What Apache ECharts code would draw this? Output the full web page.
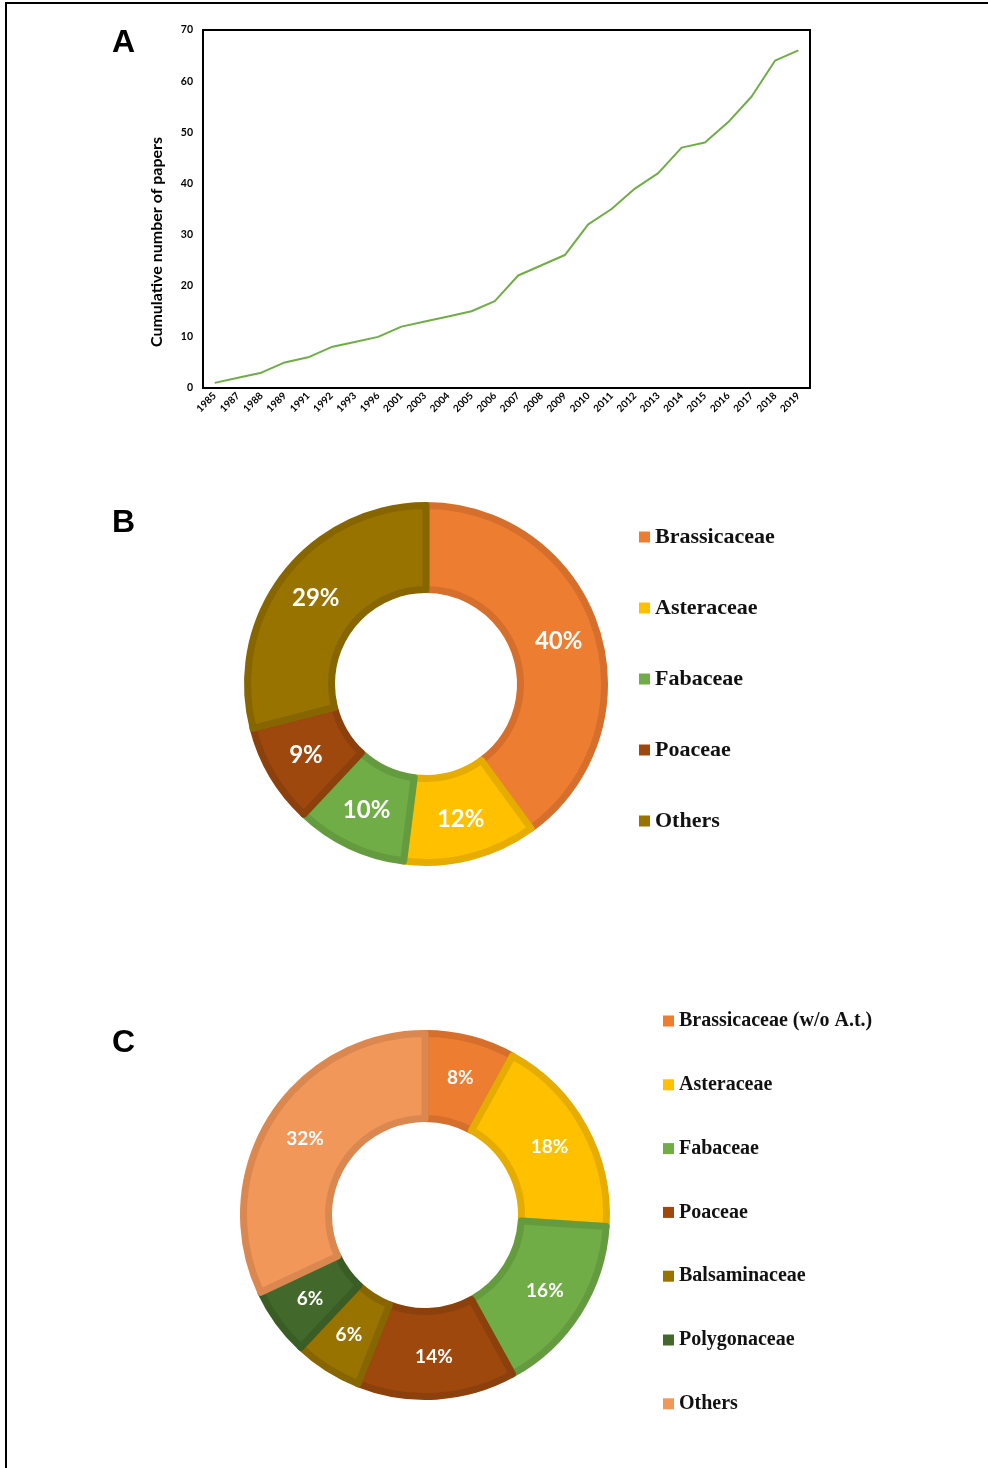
<!DOCTYPE html>
<html>
<head>
<meta charset="utf-8">
<script src="https://cdn.jsdelivr.net/npm/echarts@6/dist/echarts.min.js"></script>
<style>
  html, body { margin: 0; padding: 0; background: #fff; }
  #main { width: 988px; height: 1468px; }
</style>
</head>
<body>
<div id="main"></div>
<script>
// A: cumulative number of papers per year
const years = ['1985', '1987', '1988', '1989', '1991', '1992', '1993', '1996', '2001', '2003',
  '2004', '2005', '2006', '2007', '2008', '2009', '2010', '2011', '2012', '2013',
  '2014', '2015', '2016', '2017', '2018', '2019'];
const cumulativePapers = [1, 2, 3, 5, 6, 8, 9, 10, 12, 13,
  14, 15, 17, 22, 24, 26, 32, 35, 39, 42,
  47, 48, 52, 57, 64, 66];
const yTicks = [0, 10, 20, 30, 40, 50, 60, 70];

// B: all papers by family (%)
const familiesB = ['Brassicaceae', 'Asteraceae', 'Fabaceae', 'Poaceae', 'Others'];
const percentB = [40, 12, 10, 9, 29];

// C: without Arabidopsis thaliana (%)
const familiesC = ['Brassicaceae (w/o A.t.)', 'Asteraceae', 'Fabaceae', 'Poaceae',
  'Balsaminaceae', 'Polygonaceae', 'Others'];
const percentC = [8, 18, 16, 14, 6, 6, 32];

// colours (fill / darker edge)
const fillB = ['#ED7D31', '#FFC000', '#70AD47', '#9E480E', '#997300'];
const edgeB = ['#D66F2B', '#E6AC00', '#639B3E', '#8C400C', '#876600'];
const fillC = ['#ED7D31', '#FFC000', '#70AD47', '#9E480E', '#997300', '#43682B', '#F1975A'];
const edgeC = ['#D66F2B', '#E6AC00', '#639B3E', '#8C400C', '#876600', '#3A5C25', '#DA8850'];

const chart = echarts.init(document.getElementById('main'));

function pieData(names, values, fills, edges) {
  return names.map((n, i) => ({
    name: n,
    value: values[i],
    itemStyle: { color: fills[i], borderColor: edges[i], borderWidth: 7 }
  }));
}

function legendData(names, fills) {
  return names.map((n, i) => ({ name: n, itemStyle: { color: fills[i], borderWidth: 0 } }));
}

const labelFont = 'Lato, "Open Sans", sans-serif';
const serifFont = '"Liberation Serif", "Times New Roman", serif';
const panelFont = 'bold 32px "Liberation Sans", Arial, sans-serif';

const option = {
  animation: false,
  backgroundColor: '#fff',
  graphic: [
    { type: 'line', shape: { x1: 6, y1: 1468, x2: 6, y2: 3 }, style: { stroke: '#000', lineWidth: 2 } },
    { type: 'line', shape: { x1: 5, y1: 3, x2: 988, y2: 3 }, style: { stroke: '#000', lineWidth: 2 } },
    { type: 'text', left: 112, top: 27, style: { text: 'A', font: panelFont, fill: '#000' } },
    { type: 'text', left: 112, top: 507, style: { text: 'B', font: panelFont, fill: '#000' } },
    { type: 'text', left: 112, top: 1027, style: { text: 'C', font: panelFont, fill: '#000' } }
  ],
  grid: {
    left: 203, top: 30, width: 607, height: 358,
    show: true, borderColor: '#000', borderWidth: 2, backgroundColor: 'transparent'
  },
  xAxis: {
    type: 'category',
    data: years,
    boundaryGap: true,
    axisLine: { show: false },
    axisTick: { show: false },
    axisLabel: {
      rotate: 45, margin: 6, interval: 0,
      fontSize: 10, fontWeight: 'bold', color: '#000', fontFamily: labelFont
    }
  },
  yAxis: {
    type: 'value',
    min: yTicks[0], max: yTicks[yTicks.length - 1], interval: 10,
    name: 'Cumulative number of papers',
    nameLocation: 'middle',
    nameGap: 38,
    nameTextStyle: {
      fontSize: 16, fontWeight: 'bold', color: '#000', fontFamily: labelFont,
      padding: [0, 66, 0, 0]
    },
    axisLine: { show: false },
    axisTick: { show: false },
    splitLine: { show: false },
    axisLabel: { margin: 10, fontSize: 10.5, fontWeight: 'bold', color: '#000', fontFamily: labelFont }
  },
  legend: [
    {
      orient: 'vertical', left: 634, top: 521,
      itemWidth: 11, itemHeight: 11, itemGap: 49,
      icon: 'rect',
      selectedMode: false,
      data: legendData(familiesB, fillB),
      textStyle: { fontFamily: serifFont, fontWeight: 'bold', fontSize: 22, lineHeight: 22, color: '#111' }
    },
    {
      orient: 'vertical', left: 658, top: 1006,
      itemWidth: 11, itemHeight: 11, itemGap: 43.8,
      icon: 'rect',
      selectedMode: false,
      data: legendData(familiesC, fillC),
      textStyle: { fontFamily: serifFont, fontWeight: 'bold', fontSize: 20, lineHeight: 20, color: '#111' }
    }
  ],
  series: [
    {
      type: 'line',
      data: cumulativePapers,
      symbol: 'none',
      lineStyle: { color: '#70AD47', width: 2 },
      itemStyle: { color: '#70AD47' }
    },
    {
      type: 'pie',
      center: [426, 684],
      radius: [94.5, 178.5],
      startAngle: 90,
      avoidLabelOverlap: false,
      emphasis: { disabled: true },
      label: {
        position: 'inside', formatter: '{c}%',
        color: '#fff', fontWeight: 'bold', fontSize: 24, fontFamily: labelFont
      },
      labelLine: { show: false },
      data: pieData(familiesB, percentB, fillB, edgeB)
    },
    {
      type: 'pie',
      center: [425, 1215],
      radius: [96.5, 181.5],
      startAngle: 90,
      avoidLabelOverlap: false,
      emphasis: { disabled: true },
      label: {
        position: 'inside', formatter: '{c}%',
        color: '#fff', fontWeight: 'bold', fontSize: 19, fontFamily: labelFont
      },
      labelLine: { show: false },
      data: pieData(familiesC, percentC, fillC, edgeC)
    }
  ]
};

chart.setOption(option);
</script>
</body>
</html>
